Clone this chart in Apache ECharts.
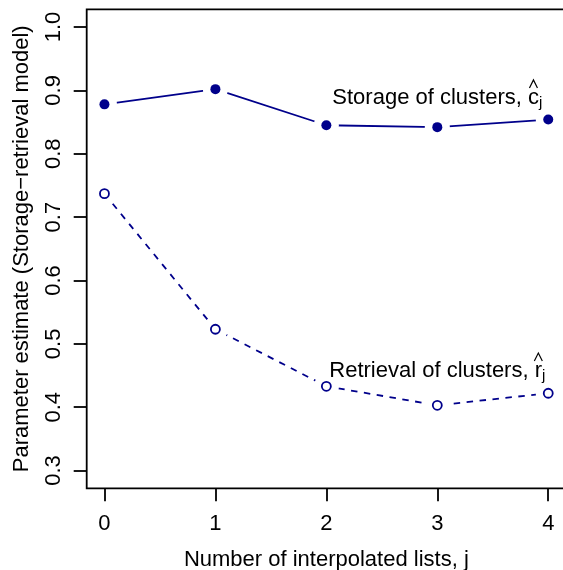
<!DOCTYPE html>
<html><head><meta charset="utf-8">
<script src="https://cdn.jsdelivr.net/npm/echarts@6/dist/echarts.min.js"></script>
<style>html,body{margin:0;padding:0;background:#fff}#c{width:563px;height:570px}</style>
</head><body><div id="c"></div>
<script>
// ---- data ----
const lists = [0, 1, 2, 3, 4];
const storage = [0.878, 0.902, 0.845, 0.842, 0.854];
const retrieval = [0.737, 0.523, 0.433, 0.403, 0.422];
const xTicks = [0, 1, 2, 3, 4];
const yTicks = [0.3, 0.4, 0.5, 0.6, 0.7, 0.8, 0.9, 1.0];
const xTitle = 'Number of interpolated lists, j';
const yTitle = 'Parameter estimate (Storage\u2212retrieval model)';
const labelMain = ['Storage of clusters, ', 'Retrieval of clusters, '];
const labelLetter = ['c', 'r'];
const labelSub = ['j', 'j'];
const labelX = [3, 3];
const labelY = [0.8875, 0.4565];

const NAVY = '#00008b';
const FONT = '"Liberation Sans", Arial, Helvetica, sans-serif';
const FS = 22;

const chart = echarts.init(document.getElementById('c'), null, {renderer: 'canvas'});
const pair = (xs, ys) => xs.map((x, i) => [x, ys[i]]);

const axisCommon = {
  type: 'value',
  splitLine: {show: false},
  axisLine: {show: false, onZero: false},
  nameTextStyle: {fontSize: FS, fontFamily: FONT, color: '#000'},
};

chart.setOption({
  animation: false,
  backgroundColor: '#fff',
  grid: {left: 86.7, top: 9.3, width: 479.3, height: 479, containLabel: false, outerBoundsMode: 'none',
    show: true, borderColor: '#000', borderWidth: 1.8, backgroundColor: 'transparent'},
  xAxis: Object.assign({}, axisCommon, {
    min: -0.16, max: 4.16,
    name: xTitle, nameLocation: 'middle', nameGap: 61,
    axisTick: {show: true, inside: false, customValues: xTicks, length: 13, lineStyle: {color: '#000', width: 1.8}},
    axisLabel: {customValues: xTicks, fontSize: FS, fontFamily: FONT, color: '#000', margin: 25},
  }),
  yAxis: Object.assign({}, axisCommon, {
    min: 0.272, max: 1.028,
    name: yTitle, nameLocation: 'middle', nameGap: 54, nameRotate: 90,
    axisTick: {show: true, inside: false, customValues: yTicks, length: 13, lineStyle: {color: '#000', width: 1.8}},
    axisLabel: {customValues: yTicks, fontSize: FS, fontFamily: FONT, color: '#000', margin: 22, rotate: 90,
      formatter: v => v.toFixed(1)},
  }),
  series: [
    {type: 'line', data: pair(lists, storage), showSymbol: false, z: 2,
     lineStyle: {color: NAVY, width: 1.8, type: 'solid'}},
    {type: 'line', data: pair(lists, retrieval), showSymbol: false, z: 2,
     lineStyle: {color: NAVY, width: 1.8, type: [6.5, 6.5]}},
    {type: 'scatter', data: pair(lists, storage).concat(pair(lists, retrieval)), symbol: 'circle', symbolSize: 25, z: 3, silent: true,
     itemStyle: {color: '#fff', opacity: 1}},
    {type: 'scatter', data: pair(lists, storage), symbol: 'circle', symbolSize: 10, z: 4,
     itemStyle: {color: NAVY, opacity: 1}},
    {type: 'scatter', data: pair(lists, retrieval), symbol: 'circle', symbolSize: 9, z: 4,
     itemStyle: {color: '#fff', borderColor: NAVY, borderWidth: 1.8, opacity: 1}},
  ],
});

// annotation labels with hat and subscript
const ctx = document.createElement('canvas').getContext('2d');
function w(text, size) { ctx.font = size + 'px ' + FONT; return ctx.measureText(text).width; }
const SUBFS = 15;
const graphics = [];
for (let i = 0; i < labelMain.length; i++) {
  const p = chart.convertToPixel({gridIndex: 0}, [labelX[i], labelY[i]]);
  const wm = w(labelMain[i], FS), wl = w(labelLetter[i], FS), ws = w(labelSub[i], SUBFS);
  const total = wm + wl + ws;
  const left = p[0] - total / 2;
  const baseline = p[1] + 7.6;
  graphics.push({type: 'text', z: 100, x: left, y: p[1],
    style: {text: labelMain[i] + labelLetter[i], font: FS + 'px ' + FONT, fill: '#000', textAlign: 'left', textVerticalAlign: 'middle'}});
  graphics.push({type: 'text', z: 100, x: left + wm + wl, y: baseline + 4,
    style: {text: labelSub[i], font: SUBFS + 'px ' + FONT, fill: '#000', textAlign: 'left', textVerticalAlign: 'bottom'}});
  const cx = left + wm + wl / 2;
  const hb = baseline - 18, ht = baseline - 26;
  graphics.push({type: 'polyline', z: 100, shape: {points: [[cx - 4, hb], [cx, ht], [cx + 4, hb]]},
    style: {stroke: '#000', lineWidth: 1.2, fill: null}});
}
chart.setOption({graphic: graphics});
</script></body></html>
